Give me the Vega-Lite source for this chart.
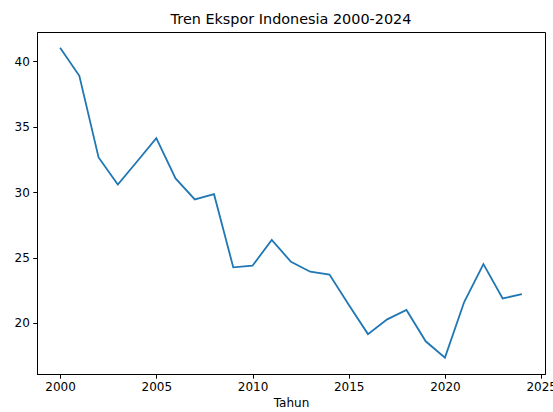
{
  "$schema": "https://vega.github.io/schema/vega-lite/v6.json",
  "width": 508,
  "height": 342,
  "autosize": {"type": "none"},
  "padding": {"left": 37, "top": 32, "right": 8, "bottom": 38},
  "background": "white",
  "title": {
    "text": "Tren Ekspor Indonesia 2000-2024",
    "font": "DejaVu Sans",
    "fontSize": 14.4,
    "fontWeight": "normal",
    "color": "#000000",
    "anchor": "middle",
    "offset": 5
  },
  "config": {
    "view": {"stroke": "#000000", "strokeWidth": 1},
    "axis": {
      "labelFont": "DejaVu Sans",
      "labelFontSize": 12,
      "labelColor": "#000000",
      "titleFont": "DejaVu Sans",
      "titleFontSize": 12,
      "titleFontWeight": "normal",
      "titleColor": "#000000",
      "domainColor": "#000000",
      "tickColor": "#000000",
      "tickSize": 4.2,
      "grid": false
    }
  },
  "data": {
    "values": [
      {"Tahun": 2000, "Ekspor": 41.05},
      {"Tahun": 2001, "Ekspor": 38.9},
      {"Tahun": 2002, "Ekspor": 32.66},
      {"Tahun": 2003, "Ekspor": 30.59},
      {"Tahun": 2004, "Ekspor": 32.35},
      {"Tahun": 2005, "Ekspor": 34.14},
      {"Tahun": 2006, "Ekspor": 31.05},
      {"Tahun": 2007, "Ekspor": 29.45},
      {"Tahun": 2008, "Ekspor": 29.85},
      {"Tahun": 2009, "Ekspor": 24.25},
      {"Tahun": 2010, "Ekspor": 24.38},
      {"Tahun": 2011, "Ekspor": 26.35},
      {"Tahun": 2012, "Ekspor": 24.68},
      {"Tahun": 2013, "Ekspor": 23.92},
      {"Tahun": 2014, "Ekspor": 23.7},
      {"Tahun": 2015, "Ekspor": 21.4},
      {"Tahun": 2016, "Ekspor": 19.15},
      {"Tahun": 2017, "Ekspor": 20.28},
      {"Tahun": 2018, "Ekspor": 21.0},
      {"Tahun": 2019, "Ekspor": 18.6},
      {"Tahun": 2020, "Ekspor": 17.35},
      {"Tahun": 2021, "Ekspor": 21.6},
      {"Tahun": 2022, "Ekspor": 24.5},
      {"Tahun": 2023, "Ekspor": 21.88},
      {"Tahun": 2024, "Ekspor": 22.2}
    ]
  },
  "mark": {"type": "line", "color": "#1f77b4", "strokeWidth": 1.8},
  "encoding": {
    "x": {
      "field": "Tahun",
      "type": "quantitative",
      "title": "Tahun",
      "scale": {"domain": [1998.8, 2025.2], "nice": false, "zero": false},
      "axis": {"values": [2000, 2005, 2010, 2015, 2020, 2025], "format": "d", "labelPadding": 3.5, "titlePadding": 5}
    },
    "y": {
      "field": "Ekspor",
      "type": "quantitative",
      "title": null,
      "scale": {"domain": [16.1, 42.25], "nice": false, "zero": false},
      "axis": {"values": [20, 25, 30, 35, 40], "labelPadding": 3.5}
    }
  }
}
